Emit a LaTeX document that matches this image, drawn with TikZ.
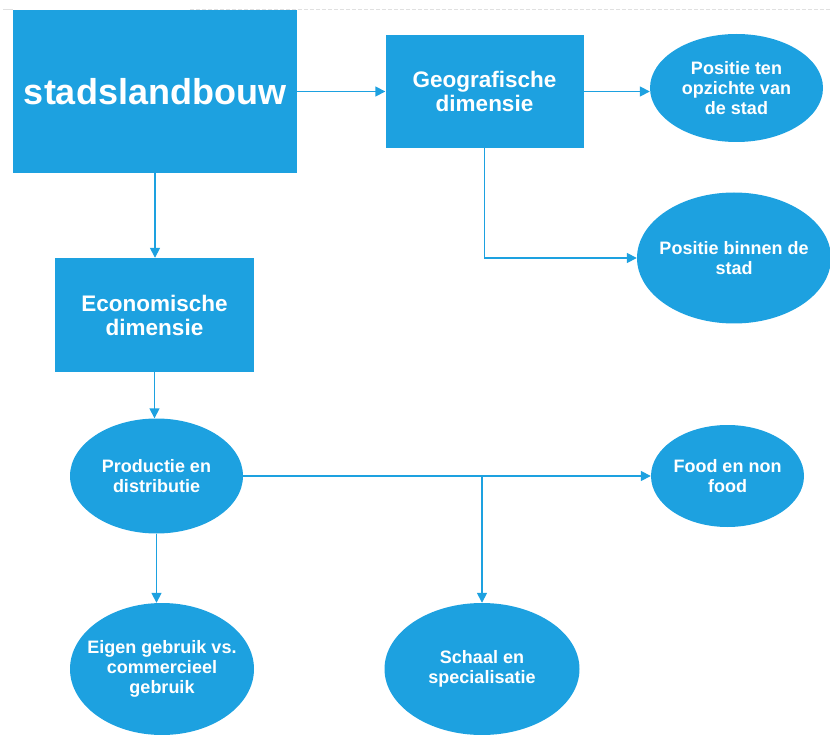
\documentclass[tikz,border=0pt]{standalone}
\usepackage{fontspec}
\setmainfont{Liberation Sans}
\usetikzlibrary{shapes.geometric,arrows.meta}
\definecolor{sky}{RGB}{29,161,224}
\tikzset{
  box/.style={rectangle, fill=sky, draw=none, text=white, align=center, inner sep=0pt, font=\bfseries\fontsize{22.5}{24}\selectfont},
  oval/.style={ellipse, fill=sky, draw=none, inner sep=0pt},
  lbl/.style={text=white, align=center, inner sep=0pt, font=\bfseries\fontsize{18}{20}\selectfont},
  arr/.style={draw=sky, line width=1.6pt, -{Triangle[length=10pt,width=10pt]}},
}
\begin{document}
\begin{tikzpicture}[x=1pt,y=-1pt]
\useasboundingbox (0,0) rectangle (830,735);
\draw[black!12, line width=0.8pt] (3,9) -- (13,9);
\draw[black!12, line width=0.8pt, dash pattern=on 4pt off 2pt] (190,9) -- (830,9);

\node[box, minimum width=284pt, minimum height=163pt, font=\bfseries\fontsize{36}{40}\selectfont] (stad) at (155,91.5) {stadslandbouw};
\node[box, minimum width=198pt, minimum height=113pt] (geo) at (484.5,91.5) {Geografische\\dimensie};
\node[box, minimum width=199pt, minimum height=114pt] (econ) at (154.5,315) {Economische\\dimensie};

\node[oval, minimum width=173pt, minimum height=108pt] (pten) at (736.5,88) {};
\node[lbl] (pten-t) at (pten) {Positie ten\\opzichte van\\de stad};
\node[oval, minimum width=194pt, minimum height=131pt] (pbin) at (734,258) {};
\node[lbl] (pbin-t) at (pbin) {Positie binnen de\\stad};
\node[oval, minimum width=173pt, minimum height=115pt] (prod) at (156.5,476) {};
\node[lbl] (prod-t) at (prod) {Productie en\\distributie};
\node[oval, minimum width=153pt, minimum height=102pt] (food) at (727.5,476) {};
\node[lbl] (food-t) at (food) {Food en non\\food};
\node[oval, minimum width=184pt, minimum height=132pt] (eigen) at (162,669) {};
\node[lbl] (eigen-t) at (eigen) {Eigen gebruik vs.\\commercieel\\gebruik};
\node[oval, minimum width=195pt, minimum height=132pt] (schaal) at (482,669) {};
\node[lbl] (schaal-t) at (schaal) {Schaal en\\specialisatie};

\draw[arr] (stad.east) -- (geo.west);
\draw[arr] (geo.east) -- (geo.east -| pten.west);
\draw[arr] (geo.south) -- (geo.south |- pbin.west) -- (pbin.west);
\draw[arr] (stad.south) -- (stad.south |- econ.north);
\draw[arr] (econ.south) -- (econ.south |- prod.north);
\draw[arr] (prod.east) -- (food.west);
\coordinate (j) at (schaal.north |- prod.east);
\draw[arr] (j) -- (schaal.north);
\draw[arr] (prod.south) -- (prod.south |- eigen.north);
\end{tikzpicture}
\end{document}
